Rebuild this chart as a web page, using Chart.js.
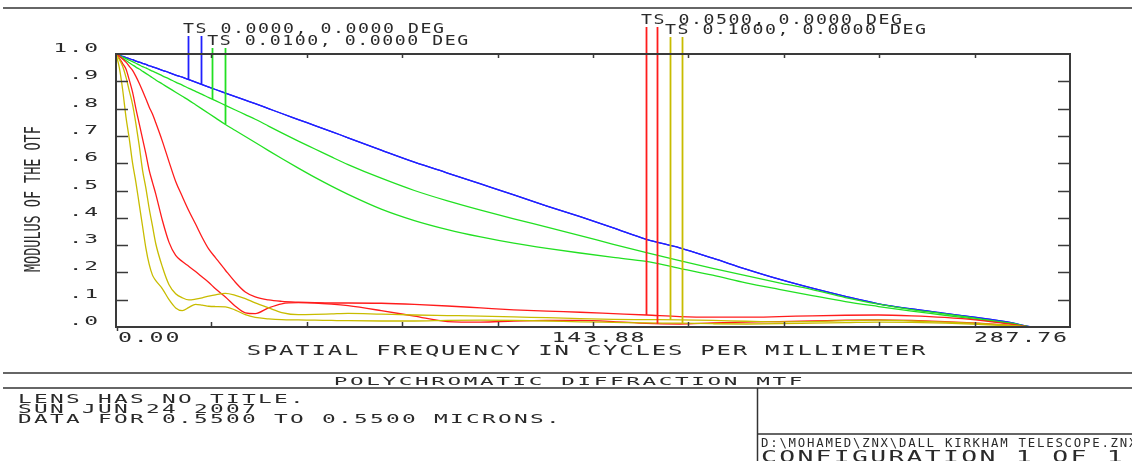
<!DOCTYPE html>
<html>
<head>
<meta charset="utf-8">
<title>Polychromatic Diffraction MTF</title>
<script src="https://cdn.jsdelivr.net/npm/chart.js@4.4.1/dist/chart.umd.min.js"></script>
<style>
  html, body { margin: 0; padding: 0; background: #fff; }
  #wrap { width: 1132px; height: 461px; }
</style>
</head>
<body>
<div id="wrap"><canvas id="mtf" width="1132" height="461"></canvas></div>
<script>
// --- DATA ---
const freq = [0, 1, 2, 3, 4, 5, 6, 7, 8, 9, 10, 11, 12,
    14, 16, 18, 20, 22, 24, 26, 28, 30,
    33, 36, 39, 42,
    46, 50, 55, 60, 65, 70,
    80, 90, 100, 110, 120, 130, 140, 150, 160, 170, 180, 190, 200, 210, 220, 230, 240, 250, 260, 270,
    277, 287.76];

// 0.0000 deg (T and S coincide)
const mtf000 = [1.0, 0.996, 0.991, 0.987, 0.983, 0.979, 0.974, 0.970, 0.966, 0.962, 0.957, 0.953, 0.949,
    0.940, 0.932, 0.923, 0.915, 0.906, 0.897, 0.888, 0.879, 0.870,
    0.857, 0.844, 0.831, 0.818,
    0.800, 0.782, 0.760, 0.738, 0.716, 0.693,
    0.648, 0.604, 0.564, 0.524, 0.484, 0.443, 0.404, 0.363, 0.321, 0.290, 0.252, 0.212, 0.175, 0.142, 0.112, 0.085, 0.066, 0.050, 0.034, 0.016,
    0, 0];

const mtf001T = [1.0, 0.994, 0.989, 0.983, 0.977, 0.972, 0.966, 0.960, 0.954, 0.949, 0.943, 0.937, 0.932,
    0.920, 0.909, 0.897, 0.886, 0.874, 0.863, 0.852, 0.840, 0.829,
    0.812, 0.795, 0.778, 0.761,
    0.736, 0.711, 0.681, 0.652, 0.623, 0.595,
    0.545, 0.500, 0.462, 0.428, 0.396, 0.366, 0.335, 0.303, 0.272, 0.243, 0.215, 0.188, 0.162, 0.137, 0.108, 0.084, 0.064, 0.048, 0.031, 0.014,
    0, 0];

const mtf001S = [1.0, 0.992, 0.984, 0.976, 0.968, 0.960, 0.952, 0.945, 0.937, 0.929, 0.921, 0.913, 0.905,
    0.890, 0.875, 0.860, 0.845, 0.830, 0.814, 0.798, 0.782, 0.766,
    0.742, 0.720, 0.698, 0.676,
    0.646, 0.617, 0.582, 0.548, 0.516, 0.486,
    0.432, 0.390, 0.357, 0.330, 0.307, 0.288, 0.271, 0.255, 0.240, 0.215, 0.190, 0.162, 0.138, 0.115, 0.093, 0.075, 0.058, 0.043, 0.027, 0.012,
    0, 0];

const mtf005T = [1.0, 0.993, 0.982, 0.970, 0.955, 0.940, 0.918, 0.893, 0.865, 0.836, 0.806, 0.780, 0.748,
    0.680, 0.605, 0.533, 0.478, 0.425, 0.377, 0.328, 0.285, 0.254,
    0.208, 0.164, 0.128, 0.110,
    0.099, 0.094, 0.091, 0.089, 0.088, 0.088,
    0.087, 0.083, 0.077, 0.070, 0.063, 0.058, 0.054, 0.049, 0.044, 0.038, 0.036, 0.036, 0.038, 0.041, 0.043, 0.044, 0.041, 0.035, 0.025, 0.010,
    0, 0];

const mtf005S = [1.0, 0.985, 0.965, 0.945, 0.905, 0.860, 0.800, 0.745, 0.690, 0.635, 0.575, 0.530, 0.487,
    0.390, 0.310, 0.262, 0.240, 0.222, 0.203, 0.183, 0.163, 0.140,
    0.110, 0.076, 0.052, 0.049,
    0.070, 0.085, 0.089, 0.088, 0.084, 0.078,
    0.060, 0.040, 0.020, 0.018, 0.022, 0.024, 0.024, 0.020, 0.013, 0.011, 0.015, 0.018, 0.020, 0.022, 0.025, 0.026, 0.024, 0.020, 0.014, 0.006,
    0, 0];

const mtf010T = [1.0, 0.980, 0.955, 0.915, 0.865, 0.815, 0.745, 0.665, 0.575, 0.510, 0.435, 0.370, 0.305,
    0.220, 0.155, 0.122, 0.107, 0.099, 0.102, 0.107, 0.113, 0.118,
    0.123, 0.116, 0.104, 0.088,
    0.070, 0.053, 0.045, 0.046, 0.048, 0.050,
    0.047, 0.044, 0.042, 0.040, 0.037, 0.034, 0.031, 0.028, 0.027, 0.026, 0.024, 0.021, 0.019, 0.020, 0.023, 0.025, 0.022, 0.018, 0.013, 0.006,
    0, 0];

const mtf010S = [1.0, 0.950, 0.870, 0.770, 0.690, 0.600, 0.530, 0.450, 0.370, 0.290, 0.230, 0.190, 0.170,
    0.140, 0.100, 0.070, 0.060, 0.072, 0.083, 0.080, 0.076, 0.075,
    0.074, 0.062, 0.045, 0.035,
    0.030, 0.027, 0.026, 0.025, 0.024, 0.023,
    0.022, 0.022, 0.024, 0.025, 0.024, 0.022, 0.019, 0.017, 0.015, 0.014, 0.012, 0.011, 0.012, 0.014, 0.016, 0.018, 0.017, 0.014, 0.010, 0.004,
    0, 0];

const fieldLabels = ['TS 0.0000, 0.0000 DEG', 'TS 0.0100, 0.0000 DEG', 'TS 0.0500, 0.0000 DEG', 'TS 0.1000, 0.0000 DEG'];
const fieldColors = ['#2020ff', '#22e022', '#ff1c1c', '#c8bc00'];
const fieldCurves = [[mtf000, mtf000], [mtf001T, mtf001S], [mtf005T, mtf005S], [mtf010T, mtf010S]];
const markerFreqs = [21.7, 25.6, 29.0, 32.9, 159.9, 163.2, 167.1, 170.7];

const yTicks = [0, 0.1, 0.2, 0.3, 0.4, 0.5, 0.6, 0.7, 0.8, 0.9, 1.0];
const yTickLabels = ['.0', '.1', '.2', '.3', '.4', '.5', '.6', '.7', '.8', '.9', '1.0'];
const xTicks = [0, 28.776, 57.552, 86.328, 115.104, 143.88, 172.656, 201.432, 230.208, 258.984, 287.76];
const xLabelValues = [0, 143.88, 287.76];
const xLabels = ['0.00', '143.88', '287.76'];

const footerLines = ['LENS HAS NO TITLE.', 'SUN JUN 24 2007', 'DATA FOR 0.5500 TO 0.5500 MICRONS.'];

// --- UTILITIES ---
function valueAt(values, f) {
    for (let i = 0; i < freq.length - 1; i++) {
        if (f >= freq[i] && f <= freq[i + 1]) {
            const t = (f - freq[i]) / (freq[i + 1] - freq[i]);
            return values[i] + t * (values[i + 1] - values[i]);
        }
    }
    return 0;
}

// plotter-style text: monospace glyphs stretched and laid on a fixed pitch
function spaced(ctx, str, x, y, o) {
    ctx.font = `${o.size}px "DejaVu Sans Mono"`;
    const adv = ctx.measureText('0').width * o.sx;
    const total = (str.length - 1) * o.pitch + adv;
    let x0 = x;
    if (o.align === 'right') x0 = x - total;
    if (o.align === 'center') x0 = x - total / 2;
    for (let i = 0; i < str.length; i++) {
        if (str[i] === ' ') continue;
        ctx.save();
        ctx.translate(x0 + i * o.pitch, y);
        ctx.scale(o.sx, 1);
        ctx.fillText(str[i], 0, 0);
        ctx.restore();
    }
}

function seg(ctx, x1, y1, x2, y2) {
    ctx.beginPath();
    ctx.moveTo(x1, y1);
    ctx.lineTo(x2, y2);
    ctx.stroke();
}

// --- DECORATION PLUGIN ---
const zemaxDecor = {
    id: 'zemaxDecor',
    afterDraw(chart) {
        const { ctx, chartArea: a, scales } = chart;
        const xs = scales.x, ys = scales.y;
        ctx.save();
        ctx.fillStyle = '#2a2a2a';
        ctx.textBaseline = 'alphabetic';

        // field markers and labels
        const baselines = [33, 45, 24, 34];
        fieldLabels.forEach((label, k) => {
            ctx.strokeStyle = fieldColors[k];
            ctx.lineWidth = 1.8;
            for (let j = 0; j < 2; j++) {
                const f = markerFreqs[2 * k + j];
                const px = Math.round(xs.getPixelForValue(f)) + 0.5;
                const py = ys.getPixelForValue(valueAt(fieldCurves[k][j], f));
                seg(ctx, px, baselines[k] + 3, px, py);
            }
            const startX = xs.getPixelForValue(markerFreqs[2 * k]) - 5;
            spaced(ctx, label, startX, baselines[k], { size: 13.5, pitch: 12.5, sx: 1.35 });
        });

        // frame
        ctx.strokeStyle = '#3a3a3a';
        ctx.lineWidth = 2;
        ctx.strokeRect(a.left, a.top, a.right - a.left, a.bottom - a.top);

        // y ticks and labels
        ctx.lineWidth = 1.5;
        yTicks.forEach((v, i) => {
            const py = Math.round(ys.getPixelForValue(v)) + 0.5;
            if (v > 0 && v < 1) {
                seg(ctx, a.left, py, a.left + 12, py);
                seg(ctx, a.right - 12, py, a.right, py);
            }
            spaced(ctx, yTickLabels[i], a.left - 18, py - 2.5, { size: 11.5, pitch: 15.5, sx: 2.0, align: 'right' });
        });

        // x ticks and labels
        xTicks.forEach(v => {
            const px = Math.round(xs.getPixelForValue(v)) + 0.5;
            if (v > 0 && v < 287.76) {
                seg(ctx, px, a.top, px, a.top + 4);
                seg(ctx, px, a.bottom - 5, px, a.bottom);
            }
        });
        seg(ctx, a.left + 1.5, a.bottom, a.left + 1.5, a.bottom + 4);
        const aligns = ['left', 'center', 'right'];
        xLabelValues.forEach((v, i) => {
            let px = xs.getPixelForValue(v);
            if (i === 0) px += 2;
            if (i === 1) px += 5;
            if (i === 2) px -= 3;
            spaced(ctx, xLabels[i], px, a.bottom + 15, { size: 13.7, pitch: 15.8, sx: 1.7, align: aligns[i] });
        });

        // axis titles
        spaced(ctx, 'SPATIAL FREQUENCY IN CYCLES PER MILLIMETER', 586, 355, { size: 13.7, pitch: 16.2, sx: 1.75, align: 'center' });
        ctx.save();
        ctx.translate(40, 272);
        ctx.rotate(-Math.PI / 2);
        spaced(ctx, 'MODULUS OF THE OTF', 0, 0, { size: 20.5, pitch: 8.1, sx: 0.66 });
        ctx.restore();

        // borders of the sheet
        ctx.strokeStyle = '#333';
        ctx.lineWidth = 1.5;
        seg(ctx, 3, 8, 1132, 8);
        seg(ctx, 3, 373, 1132, 373);
        seg(ctx, 3, 388, 1132, 388);
        seg(ctx, 757.5, 388, 757.5, 461);
        seg(ctx, 757.5, 434, 1132, 434);

        // footer text
        spaced(ctx, 'POLYCHROMATIC DIFFRACTION MTF', 568, 385, { size: 10.3, pitch: 16.25, sx: 2.2, align: 'center' });
        footerLines.forEach((line, i) => {
            spaced(ctx, line, 18, 402.5 + i * 10, { size: 12, pitch: 16, sx: 1.9 });
        });
        spaced(ctx, 'D:\\MOHAMED\\ZNX\\DALL KIRKHAM TELESCOPE.ZNX', 761, 447, { size: 13, pitch: 9.2, sx: 0.95 });
        spaced(ctx, 'CONFIGURATION 1 OF 1', 761, 462, { size: 16, pitch: 18.2, sx: 1.65 });

        ctx.restore();
    }
};

// --- CHART ---
const series = [
    { values: mtf010S, color: fieldColors[3] },
    { values: mtf010T, color: fieldColors[3] },
    { values: mtf005S, color: fieldColors[2] },
    { values: mtf005T, color: fieldColors[2] },
    { values: mtf001S, color: fieldColors[1] },
    { values: mtf001T, color: fieldColors[1] },
    { values: mtf000, color: fieldColors[0] },
    { values: mtf000, color: fieldColors[0] }
];

const datasets = series.map(s => ({
    data: s.values.map((v, i) => ({ x: freq[i], y: v })),
    borderColor: s.color,
    borderWidth: 1.3,
    pointRadius: 0,
    fill: false,
    cubicInterpolationMode: 'monotone'
}));

new Chart(document.getElementById('mtf'), {
    type: 'line',
    data: { datasets },
    options: {
        responsive: false,
        animation: false,
        devicePixelRatio: 1,
        layout: { padding: { left: 116, right: 62, top: 54, bottom: 134 } },
        plugins: { legend: { display: false }, tooltip: { enabled: false } },
        scales: {
            x: { type: 'linear', min: 0, max: 287.76, display: false },
            y: { min: 0, max: 1, display: false }
        }
    },
    plugins: [zemaxDecor]
});
</script>
</body>
</html>
